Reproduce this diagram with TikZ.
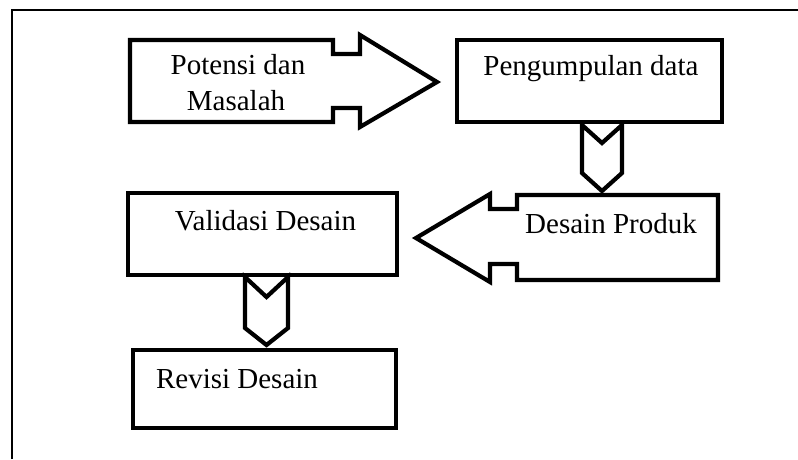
\documentclass[tikz,border=0pt]{standalone}
\usepackage{fontspec}
\setmainfont{Liberation Serif}
\begin{document}
\begin{tikzpicture}[x=1pt,y=-1pt,
  shp/.style={draw=black,line width=4.2pt,line join=miter,fill=white},
  box/.style={shp,rectangle,inner sep=0pt},
  lbl/.style={font=\fontsize{29}{35}\selectfont,inner sep=0pt,anchor=base}]
\useasboundingbox (0,0) rectangle (798,459);
% outer frame (top and left only)
\draw[line width=2pt] (11.5,459) -- (11.5,9.5) -- (798,9.5);
% Potensi dan Masalah : right arrow callout
\draw[shp] (130,40) -- (333,40) -- (333,54) -- (360,54) -- (360,35) -- (437,82)
  -- (360,127) -- (360,108) -- (333,108) -- (333,122) -- (130,122) -- cycle;
\node[lbl] (pot1) at (238,74) {Potensi dan};
\node[lbl] (pot2) at (236,110) {Masalah};
% Pengumpulan data
\node[box,minimum width=265pt,minimum height=82pt] (peng) at (589.5,81) {};
\node[lbl] (pengt) at (591,75) {Pengumpulan data};
% chevron 1
\draw[shp] (582,125) -- (602,143) -- (622,125) -- (622,173) -- (602,191) -- (582,173) -- cycle;
% Desain Produk : left arrow callout
\draw[shp] (718,195) -- (517,195) -- (517,209) -- (490,209) -- (490,194) -- (416,238)
  -- (490,282) -- (490,264) -- (517,264) -- (517,280) -- (718,280) -- cycle;
\node[lbl] (desp) at (611,233) {Desain Produk};
% Validasi Desain
\node[box,minimum width=269pt,minimum height=82pt] (val) at (262.5,234) {};
\node[lbl] (valt) at (265.5,230) {Validasi Desain};
% chevron 2
\draw[shp] (245,277) -- (266.5,297) -- (288,277) -- (288,328) -- (266.5,345) -- (245,328) -- cycle;
% Revisi Desain
\node[box,minimum width=263pt,minimum height=78pt] (rev) at (264.5,389) {};
\node[lbl] (revt) at (237,388) {Revisi Desain};
\end{tikzpicture}
\end{document}
